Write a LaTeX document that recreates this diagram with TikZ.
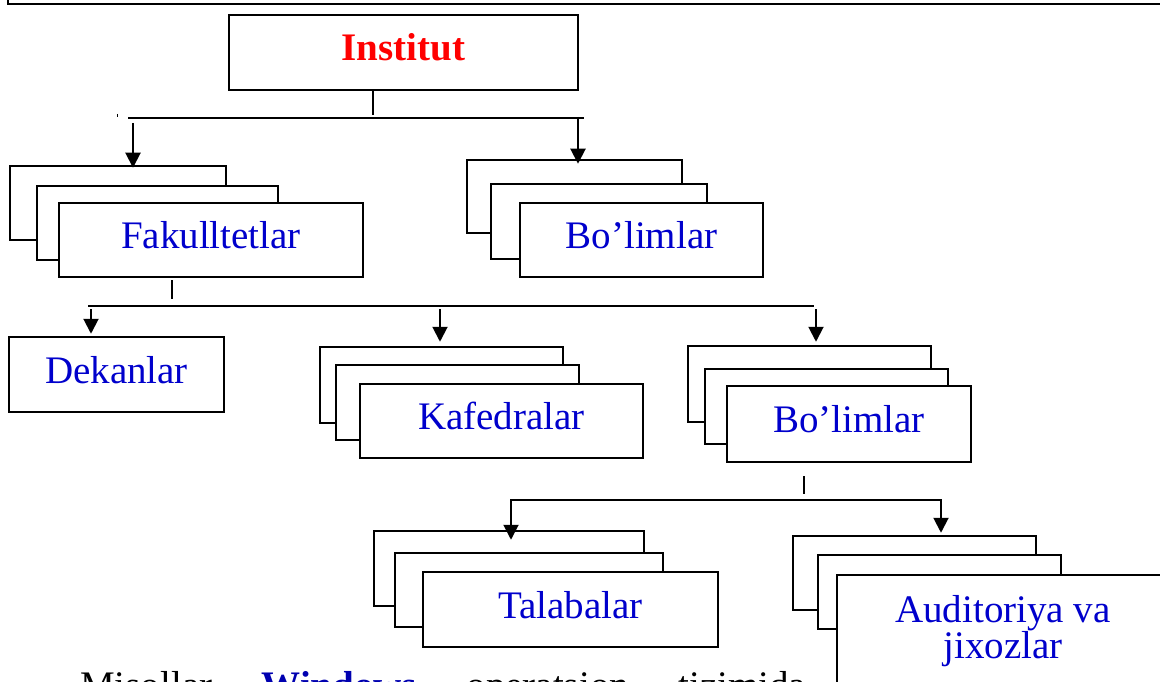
\documentclass[tikz,border=0pt]{standalone}
\usepackage{fontspec}
\setmainfont{Liberation Serif}
\usetikzlibrary{arrows.meta}
\definecolor{labelblue}{RGB}{0,0,204}
\definecolor{headred}{RGB}{255,0,0}
\definecolor{linkblue}{RGB}{0,0,176}
\begin{document}
\begin{tikzpicture}[x=1pt,y=-1pt,
  card/.style={draw=black, line width=2.5pt, fill=white, rectangle, inner sep=0pt},
  lbl/.style={font=\fontsize{39}{33}\selectfont, text=labelblue, text height=24pt, text depth=7pt},
  link/.style={line width=2pt},
  pointer/.style={link, -{Triangle[width=15pt,length=15pt]}}
]
\useasboundingbox (0,0) rectangle (1160,682);
\clip (0,0) rectangle (1160,682);

% frame edge of the preceding block
\draw[line width=2.5pt] (8,-5) -- (8,4) -- (1170,4);

% top level
\node[card, minimum width=349pt, minimum height=75pt, lbl, text=headred,
      font=\fontsize{39}{33}\selectfont\bfseries] (inst) at (403.5,52.5) {Institut};

% Fakulltetlar stack
\node[card, minimum width=216pt, minimum height=74pt] (fakb) at (118,203) {};
\node[card, minimum width=241pt, minimum height=74pt] (fakm) at (157.5,223) {};
\node[card, minimum width=304pt, minimum height=74pt, lbl] (fak) at (211,240) {Fakulltetlar};

% Bo'limlar stack (upper)
\node[card, minimum width=215pt, minimum height=73pt] (bolb) at (574.5,196.5) {};
\node[card, minimum width=216pt, minimum height=75pt] (bolm) at (599,221.5) {};
\node[card, minimum width=243pt, minimum height=74pt, lbl] (bol) at (641.5,240) {Bo’limlar};

% Dekanlar
\node[card, minimum width=215pt, minimum height=75pt, lbl] (dek) at (116.5,374.5) {Dekanlar};

% Kafedralar stack
\node[card, minimum width=243pt, minimum height=76pt] (kafb) at (441.5,385) {};
\node[card, minimum width=243pt, minimum height=75pt] (kafm) at (457.5,402.5) {};
\node[card, minimum width=283pt, minimum height=74pt, lbl] (kaf) at (501.5,421) {Kafedralar};

% Bo'limlar stack (lower)
\node[card, minimum width=243pt, minimum height=76pt] (bltb) at (809.5,384) {};
\node[card, minimum width=243pt, minimum height=75pt] (bltm) at (826.5,406.5) {};
\node[card, minimum width=244pt, minimum height=76pt, lbl] (blt) at (849,424) {Bo’limlar};

% Talabalar stack
\node[card, minimum width=270pt, minimum height=75pt] (talb) at (509,568.5) {};
\node[card, minimum width=268pt, minimum height=74pt] (talm) at (529,590) {};
\node[card, minimum width=295pt, minimum height=75pt, lbl] (tal) at (570.5,609.5) {Talabalar};

% Auditoriya va jixozlar stack
\node[card, minimum width=243pt, minimum height=74pt] (audb) at (914.5,573) {};
\node[card, minimum width=243pt, minimum height=74pt] (audm) at (939.5,592) {};
\node[card, minimum width=332pt, minimum height=125pt] (aud) at (1003,637.5) {};
\node[anchor=base, inner sep=0pt, font=\fontsize{39}{33}\selectfont, text=labelblue]
     (audtxt) at (1003,622) {\begin{tabular}[t]{@{}c@{}}Auditoriya va\\jixozlar\end{tabular}};

% junction points
\coordinate (instdrop) at (373,115);
\coordinate (barAL) at (128,118);
\coordinate (barAR) at (584,118);
\coordinate (fakin) at (133,123);
\coordinate (bolin) at (578,117);
\coordinate (fakdrop) at (172,299);
\coordinate (barBL) at (88,306);
\coordinate (barBR) at (814,306);
\coordinate (dekin) at (91,309);
\coordinate (kafin) at (440,309);
\coordinate (bltin) at (816,309);
\coordinate (bltdrop) at (804,494);
\coordinate (talin) at (511,500);
\coordinate (audin) at (941,500);

% first level connectors
\draw[link] (inst.south -| instdrop) -- (instdrop);
\draw[link] (barAL) -- (barAR);
\draw[line width=0.8pt] (117,114) -- (117,117);
\draw[pointer] (fakin) -- ([yshift=-3pt]fakb.north -| fakin);
\draw[pointer] (bolin) -- ([yshift=-5pt]bolb.north -| bolin);

% second level connectors
\draw[link] ([yshift=-2pt]fak.south -| fakdrop) -- (fakdrop);
\draw[link] (barBL) -- (barBR);
\draw[pointer] (dekin) -- ([yshift=2pt]dek.north -| dekin);
\draw[pointer] (kafin) -- ([yshift=4pt]kafb.north -| kafin);
\draw[pointer] (bltin) -- ([yshift=3pt]bltb.north -| bltin);

% third level connectors
\draw[link] ([yshift=-13pt]blt.south -| bltdrop) -- (bltdrop);
\draw[link, {Triangle[width=15pt,length=15pt]}-{Triangle[width=15pt,length=15pt]}]
  ([yshift=-10pt]talb.north -| talin) -- (talin) -- (audin) -- ([yshift=2pt]audb.north -| audin);

% body text below the chart
\node[anchor=base west, inner sep=0pt, font=\fontsize{39}{33}\selectfont] (para) at (80,698)
  {\makebox[726pt][s]{Misollar \textbf{\textcolor{linkblue}{Windows}} operatsion tizimida}};
\end{tikzpicture}
\end{document}
